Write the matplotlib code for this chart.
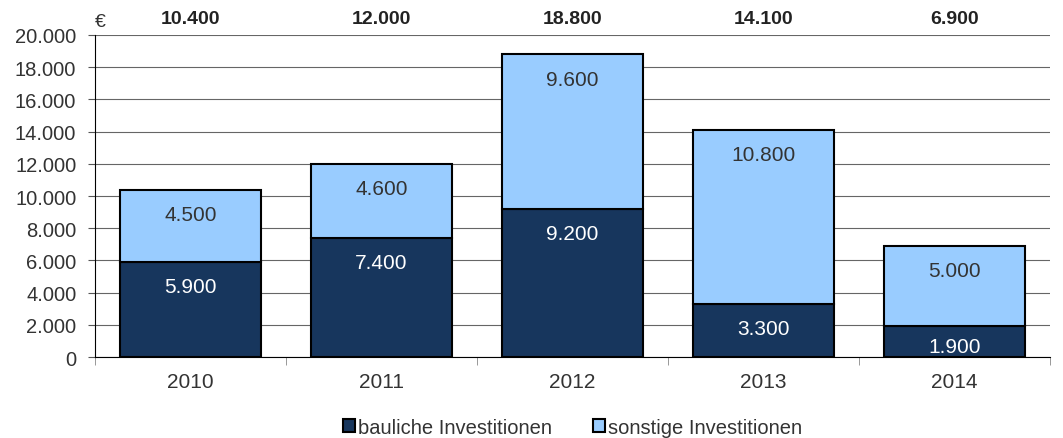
import matplotlib
matplotlib.use("Agg")
import matplotlib.pyplot as plt
from matplotlib.ticker import FuncFormatter

plt.rcParams['font.family'] = ['Liberation Sans', 'DejaVu Sans']

years = ['2010', '2011', '2012', '2013', '2014']
bauliche = [5900, 7400, 9200, 3300, 1900]
sonstige = [4500, 4600, 9600, 10800, 5000]
totals = [10400, 12000, 18800, 14100, 6900]


def de(v):
    return f"{int(v):,}".replace(",", ".")


fig = plt.figure(figsize=(10.63, 4.39), dpi=100)
ax = fig.add_axes([0.0894, 0.1845, 0.8984, 0.7335])

x = range(len(years))
dark = '#17365D'
light = '#99CCFF'
b1 = ax.bar(x, bauliche, width=0.74, color=dark, edgecolor='black', linewidth=1.5,
            label='bauliche Investitionen', zorder=3)
b2 = ax.bar(x, sonstige, width=0.74, bottom=bauliche, color=light, edgecolor='black',
            linewidth=1.5, label='sonstige Investitionen', zorder=3)

# labels sit a fixed distance below the top of each segment
off = 1550
for i in x:
    y1 = max(bauliche[i] - off, bauliche[i] * 0.35)
    y2 = max(bauliche[i] + sonstige[i] - off, bauliche[i] + sonstige[i] * 0.35)
    ax.text(i, y1, de(bauliche[i]), ha='center', va='center',
            color='white', fontsize=15, zorder=4)
    ax.text(i, y2, de(sonstige[i]), ha='center', va='center',
            color='#333333', fontsize=15, zorder=4)
    ax.text(i, 21000, de(totals[i]), ha='center', va='center', fontweight='bold',
            color='#222222', fontsize=14, clip_on=False)

ax.set_xlim(-0.5, 4.5)
ax.set_ylim(0, 20000)
ax.set_yticks(range(0, 20001, 2000))
ax.yaxis.set_major_formatter(FuncFormatter(lambda v, p: de(v)))
ax.set_xticks(list(x))
ax.set_xticklabels(years)
ax.set_xticks([i - 0.5 for i in range(6)], minor=True)
ax.tick_params(axis='x', which='major', length=0, pad=11, labelsize=15, labelcolor='#333333')
ax.tick_params(axis='x', which='minor', length=6, color='#888888', direction='out')
ax.tick_params(axis='y', length=5, color='#555555', direction='out', pad=8.5,
               labelsize=14.5, labelcolor='#333333')

ax.grid(axis='y', color='#666666', linewidth=0.8, zorder=0)
for s in ['top', 'right']:
    ax.spines[s].set_visible(False)
ax.spines['left'].set_color('black')
ax.spines['bottom'].set_color('black')

ax.text(-0.5, 20300, '€', fontsize=14, color='#333333', ha='left', va='bottom')

leg = ax.legend(handles=[b1, b2], loc='upper center', bbox_to_anchor=(0.5, -0.145), ncol=2,
                frameon=False, fontsize=14.5, handlelength=0.6, handleheight=0.6,
                handletextpad=0.15, columnspacing=2.0, borderaxespad=0.3)
for t in leg.get_texts():
    t.set_color('#333333')

fig.savefig('out.png', dpi=100)
